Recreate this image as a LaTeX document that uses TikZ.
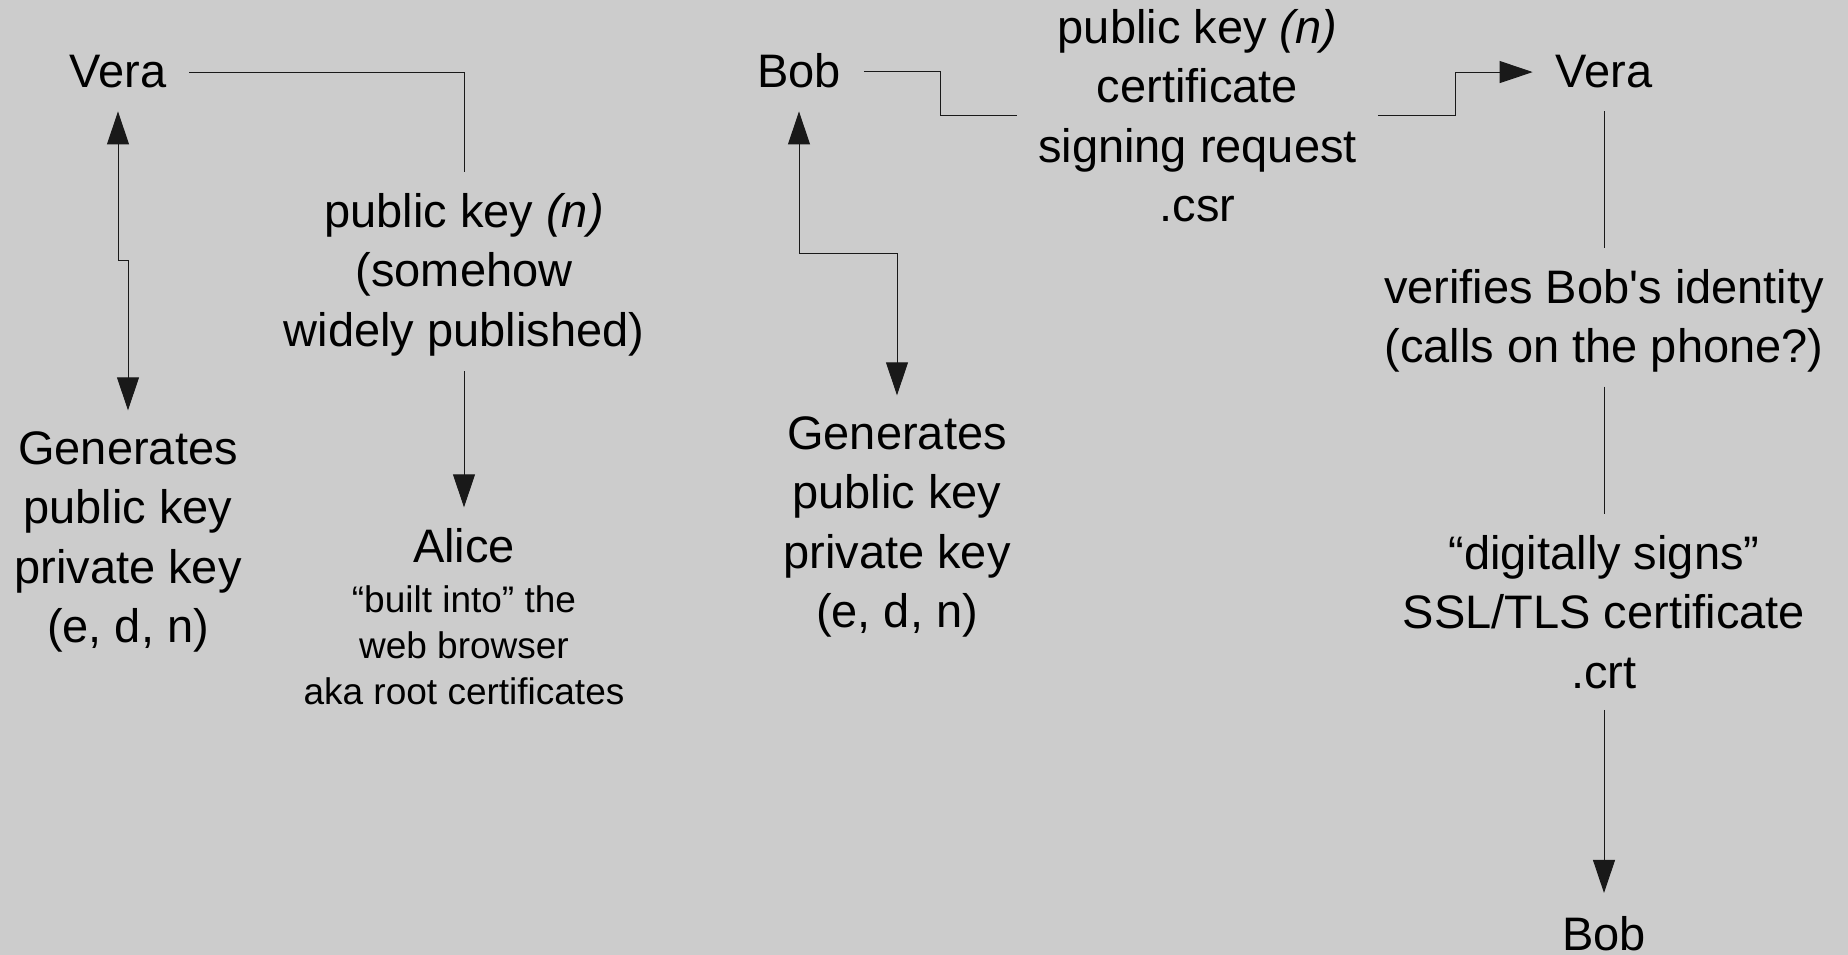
\documentclass[tikz,border=0pt]{standalone}
\usepackage{fontspec}
\setmainfont{Liberation Sans}[Ligatures=TeXOff]
\usetikzlibrary{arrows.meta,calc}
\definecolor{bg}{RGB}{204,204,204}
\newcommand\smalltxt{\fontsize{37pt}{46pt}\selectfont}
\begin{document}
\begin{tikzpicture}[x=1pt,y=-1pt,
  txt/.style={font=\fontsize{47pt}{59.5pt}\selectfont, align=center, inner sep=0pt, outer sep=21pt, text=black},
  conn/.style={draw=black!90, line width=1pt},
  tip/.style={-{Triangle[length=33pt,width=22pt]}},
  tips/.style={{Triangle[length=33pt,width=22pt]}-{Triangle[length=33pt,width=22pt]}}]
\fill[bg] (0,0) rectangle (1848,955);
\useasboundingbox (0,0) rectangle (1848,955);

% left part
\node[txt, anchor=base, outer sep=23pt] (veraL) at (118,88) {Vera};
\node[txt, anchor=north] (pk) at (464,172.3) {public key \textit{(n)}\\(somehow\\widely published)};
\node[txt, anchor=north] (genL) at (128,410.3) {Generates\\public key\\private key\\(e, d, n)};
\node[txt, anchor=north, font=\fontsize{47pt}{46pt}\selectfont] (alice) at (464,507.3)
  {Alice\\[4pt]\smalltxt “built into” the\\\smalltxt web browser\\\smalltxt aka root certificates};

% middle part
\node[txt, anchor=base, outer sep=23pt] (bobL) at (799,88) {Bob};
\node[txt, anchor=north] (csr) at (1197.5,-11.7) {public key \textit{(n)}\\certificate\\signing request\\.csr};
\node[txt, anchor=north] (genM) at (897,395.3) {Generates\\public key\\private key\\(e, d, n)};

% right part
\node[txt, anchor=base, outer sep=23pt] (veraR) at (1604,88) {Vera};
\node[txt, anchor=north] (verify) at (1604,248.3) {verifies Bob's identity\\(calls on the phone?)};
\node[txt, anchor=north] (sign) at (1604,514.3) {“digitally signs”\\SSL/TLS certificate\\.crt};
\node[txt, anchor=base, outer sep=0pt] (bobR) at (1604,950) {Bob};

% connectors
\draw[conn] (veraL.east) -| (pk.north);
\draw[conn,tips] (veraL.south) |- ($(veraL.south)!.5!(genL.north)$) -| (genL.north);
\draw[conn,tip] ([yshift=6pt]pk.south) -- (alice.north);
\draw[conn,tips] (bobL.south) |- ($(bobL.south)!.5!(genM.north)$) -| (genM.north);
\draw[conn] (bobL.east) -| ($(bobL.east)!.5!(csr.west)$) |- (csr.west);
\draw[conn,tip] (csr.east) -| ($(csr.east)!.5!(veraR.west)$) |- (veraR.west);
\draw[conn] (veraR.south) -- (verify.north);
\draw[conn] ([yshift=7pt]verify.south) -- (sign.north);
\draw[conn,tip,shorten >=23pt] (sign.south) -- (bobR.north);
\end{tikzpicture}
\end{document}
